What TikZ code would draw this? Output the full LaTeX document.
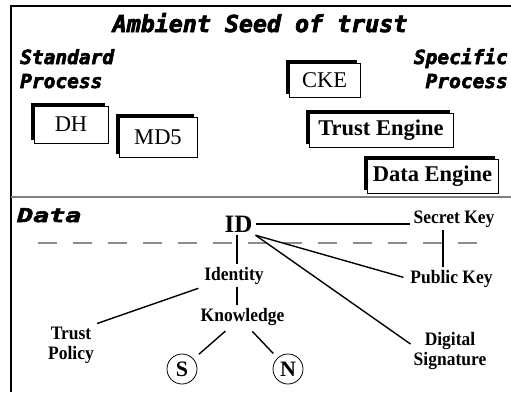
\documentclass[tikz,border=0pt]{standalone}
\usepackage{fontspec}
\setmainfont{Liberation Serif}
\newfontfamily\heavy{DejaVu Sans Mono}[BoldItalicFeatures={FakeBold=3}]
\newfontfamily\heavywide{DejaVu Sans Mono}[FakeStretch=1.4,BoldItalicFeatures={FakeBold=3}]
\newfontfamily\tallserif{Liberation Serif}[FakeStretch=0.92]
\usetikzlibrary{shadows}
\begin{document}
\begin{tikzpicture}[x=1pt,y=-1pt,
  sbox/.style={draw, line width=1pt, fill=white, inner sep=0pt,
    drop shadow={shadow xshift=-3.5pt, shadow yshift=3.5pt, fill=black, opacity=1}},
  boxtxt/.style={font=\fontsize{22.5}{24}\selectfont},
  boxtxtb/.style={font=\fontsize{22.5}{24}\selectfont\bfseries},
  hvtitle/.style={font=\heavy\bfseries\itshape\fontsize{23.3}{26}\selectfont, inner sep=0pt},
  hvside/.style={font=\heavy\bfseries\itshape\fontsize{19.5}{22}\selectfont, inner sep=0pt},
  hvwide/.style={font=\heavywide\bfseries\itshape\fontsize{19}{22}\selectfont, inner sep=0pt},
  lbl/.style={font=\tallserif\fontsize{19}{20}\selectfont\bfseries, inner sep=3pt, align=center},
  idlbl/.style={font=\fontsize{25}{27}\selectfont\bfseries, inner sep=3pt},
  circ/.style={draw, circle, minimum size=30pt, inner sep=0pt, line width=0.8pt,
    font=\fontsize{22}{24}\selectfont\bfseries},
  conn/.style={draw, line width=1.4pt},
  dashline/.style={draw=black!45, line width=1.4pt, dash pattern=on 19pt off 16pt},
  sepline/.style={draw=black!50, line width=1.2pt},
  frameline/.style={draw, line width=1.6pt}
]
\useasboundingbox (0,0) rectangle (511,392);
% frame and separators
\coordinate (fb) at (11,392);
\coordinate (ftl) at (11,6);
\coordinate (ftr) at (511,6);
\draw[frameline] (fb) -- (ftl) -- (ftr);
\coordinate (s1) at (11,197);
\coordinate (s2) at (511,197);
\draw[sepline] (s1) -- (s2);
\coordinate (d1) at (38,243);
\coordinate (d2) at (482,243);
\draw[dashline] (d1) -- (d2);

% headings
\node[hvtitle, anchor=base] (title) at (260,32) {Ambient Seed of trust};
\node[hvside, anchor=base west] (std1) at (20,64) {Standard};
\node[hvside, anchor=base west] (std2) at (20,88) {Process};
\node[hvside, anchor=base east] (spc1) at (508,64) {Specific};
\node[hvside, anchor=base east] (spc2) at (508,88) {Process};
\node[hvwide, anchor=base west] (data) at (17,222) {Data};

% boxes
\node[sbox, boxtxt, minimum width=74pt, minimum height=37pt] (DH) at (71,124.5) {DH};
\node[sbox, boxtxt, minimum width=78pt, minimum height=40pt] (MD5) at (158,137) {MD5};
\node[sbox, boxtxt, minimum width=71pt, minimum height=34pt] (CKE) at (324.5,80) {CKE};
\node[sbox, boxtxtb, minimum width=144pt, minimum height=34pt] (TE) at (381,130) {Trust Engine};
\node[sbox, boxtxtb, minimum width=131pt, minimum height=34pt] (DE) at (432.5,176) {Data Engine};

% data part
\node[idlbl, anchor=base] (ID) at (238.5,232) {ID};
\node[lbl, anchor=base] (SK) at (454,223) {Secret Key};
\node[lbl, anchor=base] (PK) at (451.5,283) {Public Key};
\node[lbl, anchor=base] (Identity) at (234,280) {Identity};
\node[lbl, anchor=base] (Knowledge) at (242.5,321) {Knowledge};
\node[lbl] (TP) at (71,345) {Trust\\Policy};
\node[lbl] (DS) at (450,351) {Digital\\Signature};
\node[circ] (S) at (182,369) {S};
\node[circ] (N) at (288,369) {N};

\draw[conn] (ID.east) -- (ID.east -| SK.west);
\draw[conn] ([xshift=-11pt]SK.south) -- ([xshift=-11pt]SK.south |- PK.north);
\draw[conn, shorten >=4pt] (ID.south east) -- (PK.west);
\draw[conn] (ID.south east) -- (DS.170);
\draw[conn] ([xshift=-1.5pt]ID.south) -- ([xshift=-1.5pt]ID.south |- Identity.north);
\draw[conn] ([xshift=3pt]Identity.south) -- ([xshift=3pt]Identity.south |- Knowledge.north);
\draw[conn, shorten <=3pt] (Identity.south west) -- (TP.north east);
\draw[conn, shorten <=4pt, shorten >=7pt] ([xshift=-14pt]Knowledge.south) -- (S);
\draw[conn, shorten <=4pt, shorten >=6pt] ([xshift=7pt]Knowledge.south) -- (N);
\end{tikzpicture}
\end{document}
